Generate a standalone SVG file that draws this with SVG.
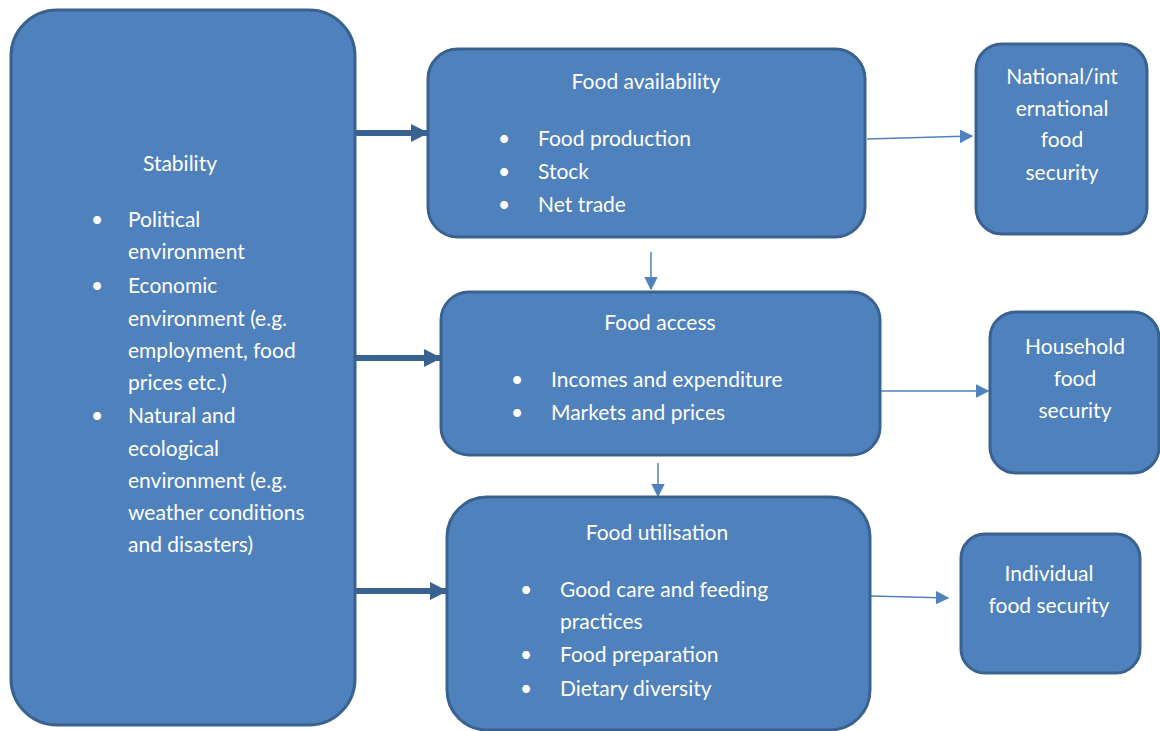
<svg xmlns="http://www.w3.org/2000/svg" width="1160" height="731" viewBox="0 0 1160 731">
<defs>
<style>
.box{fill:#4F81BD;stroke:#3A6290;stroke-width:3}
.t{font-family:Lato,"Open Sans",sans-serif;font-size:21px;fill:#fff}
.c{text-anchor:middle}
.thick{stroke:#3A6290;stroke-width:6;fill:none}
.thin{stroke:#4F81BD;stroke-width:1.5;fill:none}
</style>
<marker id="ah" viewBox="0 0 10 10" refX="9" refY="5" markerWidth="3" markerHeight="3.2" orient="auto" markerUnits="strokeWidth"><path d="M0,0L10,5L0,10z" fill="#3A6290"/></marker>
<marker id="at" viewBox="0 0 10 10" refX="9" refY="5" markerWidth="9" markerHeight="9" orient="auto" markerUnits="strokeWidth"><path d="M0,0L10,5L0,10z" fill="#4F81BD"/></marker>
</defs>
<rect width="1160" height="731" fill="#fff"/>
<g id="connectors">
<line class="thick" x1="356" y1="133" x2="427" y2="133" marker-end="url(#ah)"/>
<line class="thick" x1="356" y1="358" x2="440" y2="358" marker-end="url(#ah)"/>
<line class="thick" x1="356" y1="591" x2="446" y2="591" marker-end="url(#ah)"/>
<line class="thin" x1="867" y1="139" x2="972" y2="136" marker-end="url(#at)"/>
<line class="thin" x1="881" y1="391" x2="988" y2="391" marker-end="url(#at)"/>
<line class="thin" x1="871" y1="596" x2="948" y2="598" marker-end="url(#at)"/>
<line class="thin" x1="651" y1="252" x2="651" y2="289" marker-end="url(#at)"/>
<line class="thin" x1="658" y1="463" x2="658" y2="496" marker-end="url(#at)"/>
</g>
<g id="stability">
<rect class="box" x="11" y="10" width="344" height="715" rx="46"/>
<text class="t c" x="180" y="171">Stability</text>
<g class="t">
<text x="91" y="227">•</text><text x="128" y="227">Political</text>
<text x="128" y="259">environment</text>
<text x="91" y="293">•</text><text x="128" y="293">Economic</text>
<text x="128" y="326">environment (e.g.</text>
<text x="128" y="358">employment, food</text>
<text x="128" y="390">prices etc.)</text>
<text x="91" y="423">•</text><text x="128" y="423">Natural and</text>
<text x="128" y="456">ecological</text>
<text x="128" y="488">environment (e.g.</text>
<text x="128" y="520">weather conditions</text>
<text x="128" y="552">and disasters)</text>
</g>
</g>
<g id="availability">
<rect class="box" x="428" y="49" width="437" height="188" rx="30"/>
<text class="t c" x="646" y="89">Food availability</text>
<g class="t">
<text x="498" y="146">•</text><text x="538" y="146">Food production</text>
<text x="498" y="179">•</text><text x="538" y="179">Stock</text>
<text x="498" y="212">•</text><text x="538" y="212">Net trade</text>
</g>
</g>
<g id="national">
<rect class="box" x="976" y="44" width="171" height="190" rx="26"/>
<g class="t c">
<text x="1062" y="84">National/int</text>
<text x="1062" y="116">ernational</text>
<text x="1062" y="147">food</text>
<text x="1062" y="180">security</text>
</g>
</g>
<g id="access">
<rect class="box" x="441" y="292" width="439" height="163" rx="28"/>
<text class="t c" x="660" y="330">Food access</text>
<g class="t">
<text x="511" y="387">•</text><text x="551" y="387">Incomes and expenditure</text>
<text x="511" y="420">•</text><text x="551" y="420">Markets and prices</text>
</g>
</g>
<g id="household">
<rect class="box" x="990" y="312" width="169" height="161" rx="26"/>
<g class="t c">
<text x="1075" y="354">Household</text>
<text x="1075" y="386">food</text>
<text x="1075" y="418">security</text>
</g>
</g>
<g id="utilisation">
<rect class="box" x="447" y="497" width="423" height="233" rx="40"/>
<text class="t c" x="657" y="540">Food utilisation</text>
<g class="t">
<text x="520" y="597">•</text><text x="560" y="597">Good care and feeding</text>
<text x="560" y="629">practices</text>
<text x="520" y="662">•</text><text x="560" y="662">Food preparation</text>
<text x="520" y="696">•</text><text x="560" y="696">Dietary diversity</text>
</g>
</g>
<g id="individual">
<rect class="box" x="961" y="534" width="179" height="139" rx="24"/>
<g class="t c">
<text x="1049" y="581">Individual</text>
<text x="1049" y="613">food security</text>
</g>
</g>
</svg>
